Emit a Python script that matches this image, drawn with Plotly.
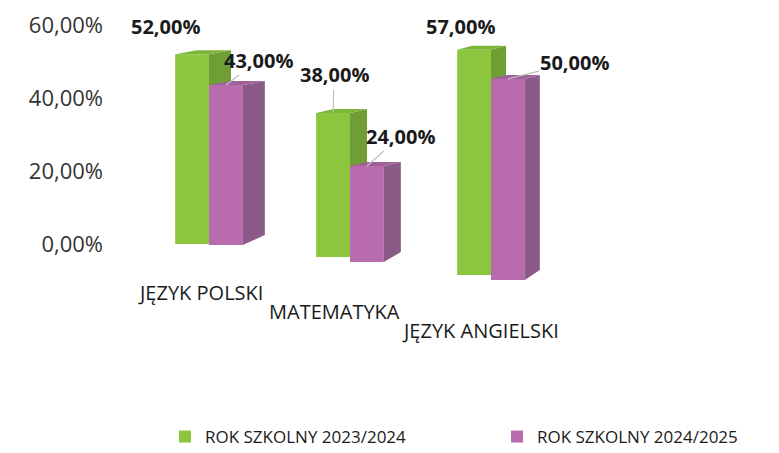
import plotly.graph_objects as go

# ---------------- data ----------------
categories = ["JĘZYK POLSKI", "MATEMATYKA", "JĘZYK ANGIELSKI"]
series_names = ["ROK SZKOLNY 2023/2024", "ROK SZKOLNY 2024/2025"]
values_2023_2024 = [52.0, 38.0, 57.0]
values_2024_2025 = [43.0, 24.0, 50.0]
y_tick_values = [0, 20, 40, 60]

series_values = [values_2023_2024, values_2024_2025]

# ---------------- style / layout constants ----------------
W, H = 779, 453            # browser window
PAGE_MARGIN = 8            # default body margin of the html page
FIG_W, FIG_H = W - PAGE_MARGIN, H - PAGE_MARGIN
FONT = "Open Sans"
FRONT = ["#8CC63E", "#B86BAD"]
SIDE = ["#6F9E35", "#8C5A86"]
TOP = ["#7DB538", "#A0609A"]


def px_x(ref_x):           # window pixel -> paper fraction
    return (ref_x - PAGE_MARGIN) / FIG_W


def px_y(ref_y):
    return 1 - (ref_y - PAGE_MARGIN) / FIG_H


CAT_X0_PX, CAT_STEP_PX = 209, 141          # perspective layout of the category slots
BAR_W = 0.24                               # front face width (x units)
DEPTH_PX = [22, 17, 15]                    # visible depth of the side faces per category
RISE_TOP_PX, RISE_BOT_PX = 4, 10           # perspective rise of back edges
# per bar (category, series): baseline pixel and pixels per percent (perspective)
BASELINE_PX = [[244, 245], [257, 262], [275, 280]]
SCALE_PX = [[3.65, 3.72], [3.79, 4.00], [3.95, 4.02]]
Y_MAX = 60
# label placement (pixel offsets relative to the bar top)
LABEL_OFF = [[(-27, -28, False), (33, -25, True)],
             [(1, -38, True), (34, -30, True)],
             [(-14, -23, False), (67, -17, True)]]
CAT_LABEL_Y_PX = [292, 311, 330]
CAT_LABEL_SHIFT = [-9, -16, -11]


def fmt(v):
    return f"{v:.2f}".replace(".", ",") + "%"


fig = go.Figure()
layout_axes = {}
annotations = []

x_range = [(PAGE_MARGIN - CAT_X0_PX) / CAT_STEP_PX, (W - CAT_X0_PX) / CAT_STEP_PX]

axis_n = 0
for c, cat in enumerate(categories):
    for s in range(len(series_names)):
        axis_n += 1
        yname = "y" if axis_n == 1 else f"y{axis_n}"
        ykey = "yaxis" if axis_n == 1 else f"yaxis{axis_n}"
        b = BASELINE_PX[c][s]
        k = SCALE_PX[c][s]
        dom = [px_y(b), px_y(b - Y_MAX * k)]
        v = series_values[s][c]
        xc = c + (s - 0.5) * BAR_W
        xl, xr = xc - BAR_W / 2, xc + BAR_W / 2
        d = DEPTH_PX[c] / CAT_STEP_PX
        rt = RISE_TOP_PX / k
        rb = RISE_BOT_PX / k

        # front face
        fig.add_trace(go.Bar(
            x=[xc], y=[v], width=BAR_W, xaxis="x", yaxis=yname,
            marker=dict(color=FRONT[s], line=dict(width=0)),
            name=series_names[s], legendgroup=series_names[s],
            showlegend=(c == 0), hoverinfo="skip"))
        # side face
        fig.add_trace(go.Scatter(
            x=[xr, xr + d, xr + d, xr, xr], y=[0, rb, v + rt, v, 0],
            xaxis="x", yaxis=yname, mode="lines", line=dict(width=0),
            fill="toself", fillcolor=SIDE[s], showlegend=False,
            legendgroup=series_names[s], hoverinfo="skip"))
        # top face
        fig.add_trace(go.Scatter(
            x=[xl, xr, xr + d, xl + d, xl], y=[v, v, v + rt, v + rt, v],
            xaxis="x", yaxis=yname, mode="lines", line=dict(width=0),
            fill="toself", fillcolor=TOP[s], showlegend=False,
            legendgroup=series_names[s], hoverinfo="skip"))

        if axis_n == 1:
            layout_axes[ykey] = dict(
                domain=dom, range=[0, Y_MAX], anchor="free", position=px_x(103),
                tickvals=y_tick_values, ticktext=[fmt(t) for t in y_tick_values],
                showgrid=False, zeroline=False, showline=False, ticks="",
                automargin=False,
                tickfont=dict(family=FONT, size=22, color="#333333"))
        else:
            layout_axes[ykey] = dict(domain=dom, range=[0, Y_MAX], anchor="x",
                                     visible=False)

        ox, oy, arrow = LABEL_OFF[c][s]
        ann = dict(x=xc, y=v, xref="x", yref=yname, text=f"<b>{fmt(v)}</b>",
                   font=dict(family=FONT, size=20, color="#1a1a1a"))
        if arrow:
            ann.update(showarrow=True, ax=ox, ay=oy, arrowhead=0,
                       arrowwidth=1.2, arrowcolor="#BFBFBF")
        else:
            ann.update(showarrow=False, xshift=ox, yshift=-oy)
        annotations.append(ann)

for c, cat in enumerate(categories):
    annotations.append(dict(
        x=c, xref="x", y=px_y(CAT_LABEL_Y_PX[c]), yref="paper",
        text=cat, showarrow=False, xanchor="center", yanchor="middle",
        xshift=CAT_LABEL_SHIFT[c],
        font=dict(family=FONT, size=20, color="#1a1a1a")))

fig.update_layout(
    width=FIG_W, height=FIG_H,
    margin=dict(l=0, r=0, t=0, b=0, autoexpand=False),
    paper_bgcolor="white", plot_bgcolor="rgba(0,0,0,0)",
    barmode="overlay",
    xaxis=dict(range=x_range, domain=[0, 1], visible=False, anchor="y"),
    annotations=annotations,
    showlegend=True,
    legend=dict(orientation="h", x=px_x(165), y=px_y(437), yanchor="middle",
                xanchor="left", entrywidth=287, entrywidthmode="pixels",
                font=dict(family=FONT, size=17, color="#1a1a1a"),
                bgcolor="rgba(0,0,0,0)", traceorder="normal"),
    **layout_axes,
)

fig.write_html("out.html")
